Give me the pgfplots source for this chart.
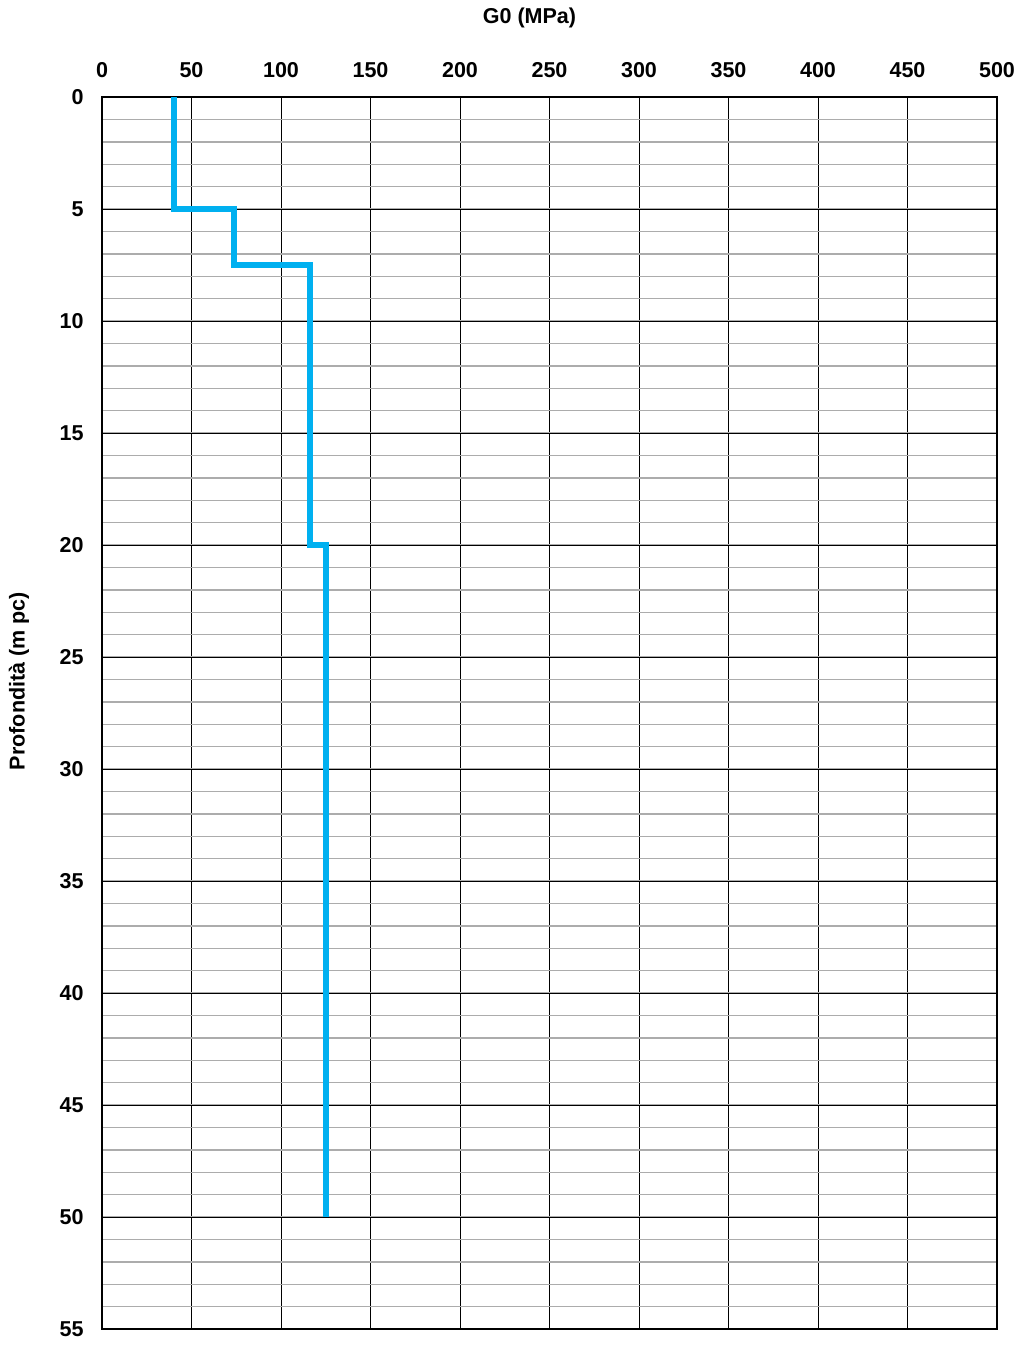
\documentclass[border=0pt]{standalone}
\usepackage{pgfplots}
\pgfplotsset{compat=1.18}
\usepackage{fontspec}
\setmainfont{Liberation Sans}
\definecolor{profile}{HTML}{00B0F0}
\begin{document}
\begin{tikzpicture}[x=1bp,y=1bp]
\begin{axis}[
  name=ax,
  scale only axis,
  width=447.5bp, height=616bp,
  xmin=0, xmax=500, ymin=0, ymax=55,
  y dir=reverse,
  xticklabel pos=upper,
  xtick={0,50,...,500},
  ytick={0,5,...,55},
  minor ytick={0,1,...,55},
  major tick length=0pt, minor tick length=0pt,
  grid=both,
  major grid style={black, line width=0.5pt},
  minor grid style={gray!65, line width=0.7pt},
  axis line style={black, line width=0.8pt},
  /pgf/number format/assume math mode=true,
  ticklabel style={font=\bfseries\fontsize{10.8}{13}\selectfont},
  label style={font=\bfseries\fontsize{10.8}{13}\selectfont},
  xticklabel style={anchor=center, inner sep=0pt, yshift=13.5bp},
  yticklabel style={anchor=east, inner sep=0pt, xshift=-9bp},
  xlabel={G0 (MPa)},
  ylabel={Profondità (m pc)},
  xlabel style={at={(axis description cs:0.5,1)}, anchor=center, inner sep=0pt, xshift=-10bp, yshift=39.5bp},
  ylabel style={at={(axis description cs:0,0.5)}, anchor=center, inner sep=0pt, xshift=16bp, yshift=41.5bp},
]
\addplot[profile, line width=3bp, line join=miter] coordinates {
  (40,0) (40,5) (74,5) (74,7.5) (116,7.5) (116,20) (125,20) (125,50)
};
\end{axis}
\pgfresetboundingbox
\path[use as bounding box] ([xshift=-51bp,yshift=-10bp]ax.south west) rectangle ([xshift=10bp,yshift=48.5bp]ax.north east);
\end{tikzpicture}
\end{document}
